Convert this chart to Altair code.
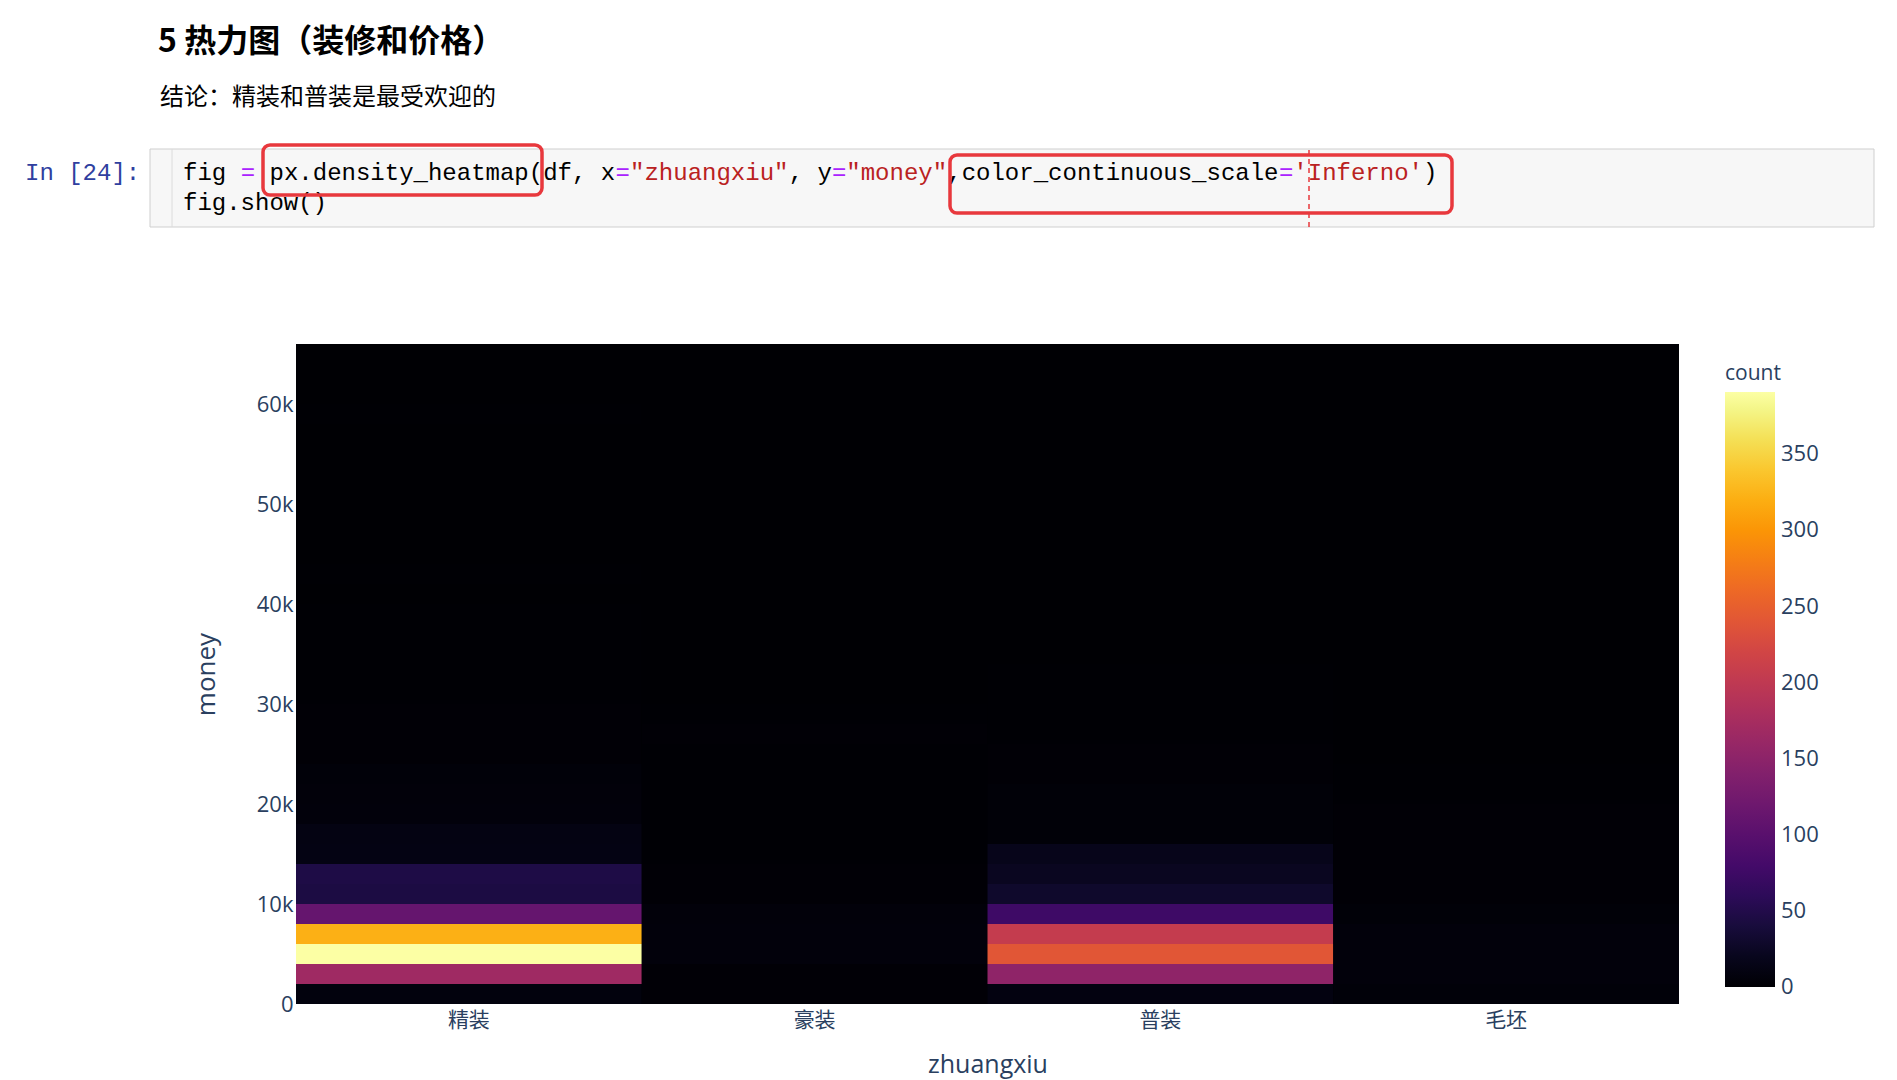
import altair as alt
import pandas as pd

# ---------------- data ----------------
categories = ["精装", "豪装", "普装", "毛坯"]
bin_width = 2000
bin_starts = [0, 2000, 4000, 6000, 8000, 10000, 12000, 14000, 16000, 18000, 20000,
              22000, 24000, 26000, 28000, 30000, 32000, 34000, 36000, 38000, 40000,
              42000, 44000, 46000, 48000, 50000, 52000, 54000, 56000, 58000, 60000,
              62000, 64000]

# counts per 2k money bin (0-2k, 2-4k, ... 64-66k)
jingzhuang = [8, 168, 391, 322, 112, 44, 46, 13, 12, 6, 5, 4, 2, 2, 2, 1, 1, 1,
              1, 1, 0, 1, 0, 0, 0, 0, 0, 0, 0, 1, 0, 0, 0]
haozhuang = [2, 2, 6, 6, 5, 2, 2, 1, 1, 1, 1, 1, 1, 2, 1, 0, 0, 0,
             0, 0, 0, 0, 0, 0, 0, 0, 0, 0, 0, 0, 0, 0, 0]
putong = [10, 152, 240, 205, 75, 30, 22, 18, 3, 3, 3, 2, 2, 1, 1, 1, 1, 0,
          0, 0, 0, 0, 0, 0, 0, 0, 0, 0, 0, 0, 0, 0, 0]
maopi = [4, 6, 6, 6, 3, 2, 2, 2, 2, 2, 1, 1, 0, 0, 0, 0, 0, 0,
         0, 0, 0, 0, 0, 0, 0, 0, 0, 0, 0, 0, 0, 0, 0]

y_ticks = [0, 10000, 20000, 30000, 40000, 50000, 60000]
legend_ticks = [0, 50, 100, 150, 200, 250, 300, 350]

heading = "5 热力图（装修和价格）"
conclusion = "结论：精装和普装是最受欢迎的"
prompt = "In [24]:"
code_line2 = "fig.show()"
# (text, char index, colour) segments of the first code line
code_segments = [
    ("fig", 0, "#000000"),
    ("=", 4, "#aa22ff"),
    ("px.density_heatmap(df, x", 6, "#000000"),
    ("=", 30, "#aa22ff"),
    ('"zhuangxiu"', 31, "#ba2121"),
    (", y", 42, "#000000"),
    ("=", 45, "#aa22ff"),
    ('"money"', 46, "#ba2121"),
    (",color_continuous_scale", 53, "#000000"),
    ("=", 76, "#aa22ff"),
    ("'Inferno'", 77, "#ba2121"),
    (")", 86, "#000000"),
]

rows = []
for cat, counts in zip(categories, [jingzhuang, haozhuang, putong, maopi]):
    for lo, c in zip(bin_starts, counts):
        rows.append({"zhuangxiu": cat, "lo": lo, "hi": lo + bin_width, "count": c})
df = pd.DataFrame(rows)

FONT = "Open Sans, Noto Sans CJK SC"
CJK = "Noto Sans CJK SC"
MONO = "Liberation Mono"
AX = "#2a3f5f"

heat = alt.Chart(df).mark_rect().encode(
    x=alt.X(
        "zhuangxiu:N",
        sort=categories,
        scale=alt.Scale(paddingInner=0, paddingOuter=0),
        axis=alt.Axis(
            title="zhuangxiu", labelAngle=0, ticks=False, domain=False, grid=False,
            labelFontSize=21, labelPadding=5, labelColor=AX, labelFont=FONT,
            titleColor=AX, titleFontSize=25, titleFontWeight="normal",
            titlePadding=22, titleFont=FONT,
        ),
    ),
    y=alt.Y(
        "lo:Q",
        scale=alt.Scale(domain=[0, 66000], nice=False, zero=True),
        axis=alt.Axis(
            title="money", values=y_ticks,
            labelExpr="datum.value == 0 ? '0' : format(datum.value / 1000, 'd') + 'k'",
            ticks=False, domain=False,
            grid=False, labelFontSize=22, labelPadding=3, labelColor=AX,
            labelFont=FONT, titleColor=AX, titleFontSize=26,
            titleFontWeight="normal", titlePadding=37, titleFont=FONT,
        ),
    ),
    y2="hi:Q",
    color=alt.Color(
        "count:Q",
        scale=alt.Scale(scheme="inferno", domain=[-0.05, 391]),
        legend=alt.Legend(
            title="count", orient="none", legendX=1429, legendY=19,
            direction="vertical", gradientLength=595, gradientThickness=50,
            gradientStrokeWidth=0, values=legend_ticks, labelFontSize=22,
            labelColor=AX, labelFont=FONT, labelOffset=6, labelBaseline="middle",
            labelOverlap=False, titleFontSize=21, titleColor=AX, titleFont=FONT,
            titleFontWeight="normal", titlePadding=8, padding=0,
        ),
    ),
)

one = alt.Data(values=[{"k": 1}])


def text_layer(text, x, y, size, color="#000000", font=CJK, weight="normal"):
    return alt.Chart(one).mark_text(
        text=text, align="left", baseline="middle", fontSize=size, font=font,
        fontWeight=weight, color=color,
    ).encode(x=alt.value(x), y=alt.value(y))


layers = [heat]
# code cell box
layers.append(
    alt.Chart(one).mark_rect(fill="#f7f7f7", stroke="#cfcfcf", strokeWidth=1).encode(
        x=alt.value(-146), x2=alt.value(1578), y=alt.value(-195), y2=alt.value(-117)
    )
)
layers.append(
    alt.Chart(one).mark_rule(color="#dcdcdc", strokeWidth=1).encode(
        x=alt.value(-124), y=alt.value(-195), y2=alt.value(-117)
    )
)
layers.append(text_layer(heading, -138, -302, 32, weight="bold"))
layers.append(text_layer(conclusion, -136, -246, 24))
layers.append(text_layer(prompt, -271, -171, 24, color="#303f9f", font=MONO))
CHAR_W = 14.42
for seg, idx, col in code_segments:
    layers.append(text_layer(seg, -113 + idx * CHAR_W, -171, 24, color=col, font=MONO))
layers.append(text_layer(code_line2, -113, -141, 24, font=MONO))
# red highlight boxes and dashed line
layers.append(
    alt.Chart(one).mark_rect(fillOpacity=0, stroke="#e8383d", strokeWidth=3.5, cornerRadius=7).encode(
        x=alt.value(-33), x2=alt.value(246), y=alt.value(-199), y2=alt.value(-149)
    )
)
layers.append(
    alt.Chart(one).mark_rect(fillOpacity=0, stroke="#e8383d", strokeWidth=3.5, cornerRadius=7).encode(
        x=alt.value(654), x2=alt.value(1156), y=alt.value(-189), y2=alt.value(-131)
    )
)
layers.append(
    alt.Chart(one).mark_rule(color="#e8383d", strokeWidth=1.5, strokeDash=[5, 4]).encode(
        x=alt.value(1013), y=alt.value(-194), y2=alt.value(-116)
    )
)

chart = alt.layer(*layers).properties(
    width=1383,
    height=660,
    autosize=alt.AutoSizeParams(type="none"),
    padding={"left": 288, "top": 336, "right": 198, "bottom": 76},
    background="#ffffff",
).configure_view(stroke=None, fill="#000004")

chart.save("out.html", embed_options={"renderer": "svg", "actions": False})
